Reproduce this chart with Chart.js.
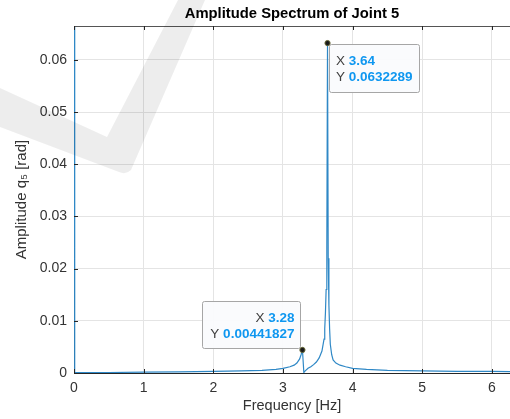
<!DOCTYPE html>
<html>
<head>
<meta charset="utf-8">
<script src="https://cdn.jsdelivr.net/npm/chart.js@4.4.1/dist/chart.umd.min.js"></script>
<style>
  html, body { margin: 0; padding: 0; background: #fff; }
  #wrap { width: 510px; height: 419px; }
</style>
</head>
<body>
<div id="wrap"><canvas id="spectrum" width="510" height="419"></canvas></div>
<script>
// spectrum samples (Hz, rad)
const freqHz = [0, 0.01, 0.5, 1.0, 1.5, 2.0, 2.4, 2.7, 2.9, 3.0, 3.1, 3.16, 3.2, 3.24, 3.26, 3.28,
  3.30, 3.32, 3.36, 3.40, 3.44, 3.48, 3.52, 3.56, 3.59, 3.60, 3.61, 3.62, 3.63, 3.64,
  3.65, 3.66, 3.67, 3.68, 3.70, 3.72, 3.76, 3.82, 3.9, 4.0, 4.2, 4.5, 5.0, 5.5, 6.0, 6.3];
const ampRad = [0.2, 0.0001, 0.0001, 0.00015, 0.0002, 0.0003, 0.0004, 0.0005, 0.0007, 0.0009, 0.0012, 0.0015, 0.0019, 0.0027, 0.0035, 0.00441827,
  0.0001, 0.0004, 0.0009, 0.0012, 0.0016, 0.0021, 0.0029, 0.0042, 0.0065, 0.0085, 0.0115, 0.016, 0.024, 0.0632289,
  0.022, 0.013, 0.0085, 0.0055, 0.0035, 0.0025, 0.0019, 0.0015, 0.0012, 0.0009, 0.0007, 0.0005, 0.0004, 0.0003, 0.0003, 0.00025];

const xTicks = [0, 1, 2, 3, 4, 5, 6];
const yTicks = [0, 0.01, 0.02, 0.03, 0.04, 0.05, 0.06];

// data tips shown on the figure
const tipX = [3.64, 3.28];
const tipY = [0.0632289, 0.00441827];
const tipXText = ['3.64', '3.28'];
const tipYText = ['0.0632289', '0.00441827'];

const TEXT = '#333333';
const FONT = '"Liberation Sans", Arial, sans-serif';

const points = freqHz.map((f, i) => ({ x: f, y: ampRad[i] }));

// grey check-mark watermark + title, box top line, inward ticks, data tips
const decorPlugin = {
  id: 'decor',
  beforeDraw(chart) {
    const ctx = chart.ctx;
    ctx.save();
    ctx.fillStyle = '#fff';
    ctx.fillRect(0, 0, chart.width, chart.height);
    ctx.restore();
  },
  afterDraw(chart) {
    const ctx = chart.ctx;
    const area = chart.chartArea;
    const xs = chart.scales.x, ys = chart.scales.y;
    ctx.save();

    // box line on top
    ctx.strokeStyle = '#555';
    ctx.lineWidth = 1;
    ctx.beginPath();
    ctx.moveTo(area.left, area.top + 0.5);
    ctx.lineTo(area.right, area.top + 0.5);
    ctx.stroke();

    // inward ticks
    ctx.strokeStyle = '#262626';
    ctx.beginPath();
    xTicks.forEach(v => {
      const px = Math.round(xs.getPixelForValue(v)) + 0.5;
      ctx.moveTo(px, area.bottom); ctx.lineTo(px, area.bottom - 4);
      ctx.moveTo(px, area.top); ctx.lineTo(px, area.top + 4);
    });
    yTicks.forEach(v => {
      const py = Math.round(ys.getPixelForValue(v)) + 0.5;
      ctx.moveTo(area.left, py); ctx.lineTo(area.left + 4, py);
    });
    ctx.stroke();

    // title
    ctx.fillStyle = '#000';
    ctx.font = 'bold 14.8px ' + FONT;
    ctx.textAlign = 'center';
    ctx.textBaseline = 'middle';
    ctx.fillText('Amplitude Spectrum of Joint 5', (area.left + area.right) / 2, 14);

    // data tips
    tipX.forEach((tx, i) => {
      const px = xs.getPixelForValue(tx);
      const py = ys.getPixelForValue(tipY[i]);
      let bx, by, w, h;
      if (i === 0) { w = 90; h = 48; bx = px + 1.5; by = py + 1; }
      else { w = 98; h = 47; bx = px - 100; by = py - 49; }
      ctx.fillStyle = 'rgba(250,251,253,0.96)';
      ctx.strokeStyle = '#a6a6a6';
      ctx.lineWidth = 1;
      ctx.beginPath();
      ctx.roundRect(Math.round(bx) + 0.5, Math.round(by) + 0.5, w, h, 2);
      ctx.fill();
      ctx.stroke();

      const lines = [['X', tipXText[i]], ['Y', tipYText[i]]];
      lines.forEach((ln, j) => {
        const ty = by + 17 + j * 16.5;
        ctx.textBaseline = 'middle';
        ctx.textAlign = 'left';
        ctx.font = 'bold 13.5px ' + FONT;
        const vw = ctx.measureText(ln[1]).width;
        ctx.font = '13.5px ' + FONT;
        const lw = ctx.measureText(ln[0] + ' ').width;
        let sx;
        if (i === 0) sx = bx + 7;
        else sx = bx + w - 6 - vw - lw;
        ctx.fillStyle = '#404040';
        ctx.fillText(ln[0], sx, ty);
        ctx.font = 'bold 13.5px ' + FONT;
        ctx.fillStyle = '#0f97f0';
        ctx.fillText(ln[1], sx + lw, ty);
      });

      ctx.fillStyle = '#1a1a1a';
      ctx.strokeStyle = '#6b6b3a';
      ctx.beginPath();
      ctx.arc(px, py, 2.6, 0, Math.PI * 2);
      ctx.fill();
      ctx.stroke();
    });

    // watermark
    ctx.fillStyle = 'rgba(0,0,0,0.07)';
    ctx.beginPath();
    ctx.moveTo(0, 88);
    ctx.lineTo(107, 137);
    ctx.lineTo(178, 0);
    ctx.lineTo(205, 0);
    ctx.lineTo(131, 170);
    ctx.quadraticCurveTo(126, 175, 119, 172);
    ctx.lineTo(0, 127);
    ctx.closePath();
    ctx.fill();

    ctx.restore();
  }
};

new Chart(document.getElementById('spectrum'), {
  type: 'line',
  data: {
    datasets: [{
      data: points,
      borderColor: '#2f88c6',
      borderWidth: 1.2,
      pointRadius: 0,
      tension: 0,
      fill: false
    }]
  },
  options: {
    responsive: false,
    animation: false,
    events: [],
    layout: { padding: { top: 26, right: 0, left: 0, bottom: 0 } },
    plugins: { legend: { display: false }, tooltip: { enabled: false }, title: { display: false } },
    scales: {
      x: {
        type: 'linear',
        min: 0,
        max: 6.26,
        afterFit(scale) { scale.height = 46; },
        afterBuildTicks(scale) { scale.ticks = xTicks.map(v => ({ value: v })); },
        grid: { color: '#e4e4e4', drawTicks: false },
        border: { color: '#262626', width: 1 },
        ticks: {
          padding: 7,
          color: TEXT,
          font: { family: FONT, size: 14 },
          maxRotation: 0,
          callback: v => String(v)
        },
        title: {
          display: true,
          text: 'Frequency [Hz]',
          color: TEXT,
          font: { family: FONT, size: 14.5 },
          padding: { top: 0, bottom: 4 }
        }
      },
      y: {
        type: 'linear',
        min: 0,
        max: 0.0665,
        afterFit(scale) { scale.width = 74; },
        afterBuildTicks(scale) { scale.ticks = yTicks.map(v => ({ value: v })); },
        grid: { color: '#e4e4e4', drawTicks: false },
        border: { color: '#262626', width: 1 },
        ticks: {
          padding: 7,
          color: TEXT,
          font: { family: FONT, size: 14 },
          callback: v => (v === 0 ? '0' : v.toFixed(2))
        },
        title: {
          display: true,
          text: 'Amplitude q\u2085 [rad]',
          color: TEXT,
          font: { family: FONT, size: 15 },
          padding: { top: 13, bottom: 0 }
        }
      }
    }
  },
  plugins: [decorPlugin]
});
</script>
</body>
</html>
